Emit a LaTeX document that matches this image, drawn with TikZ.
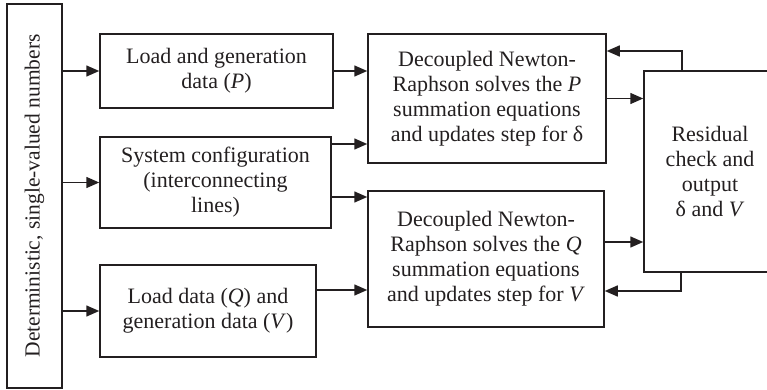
\documentclass[tikz,border=0pt]{standalone}
\usepackage{fontspec}
\setmainfont{Liberation Serif}
\usetikzlibrary{arrows.meta}
\definecolor{ink}{HTML}{231F20}
\tikzset{
  blk/.style={draw=ink, line width=1.5pt, text=ink, align=center, inner sep=0pt,
    font=\fontsize{22}{25}\selectfont},
  arr/.style={draw=ink, line width=1.5pt, -{Triangle[length=13pt,width=11pt]}},
}
\begin{document}
\begin{tikzpicture}[x=1pt,y=-1pt]
\clip (0,0) rectangle (767,390);
\useasboundingbox (0,0) rectangle (767,390);
\node[blk, minimum width=55pt, minimum height=384pt] (L) at (34.5,196) {};
\node[text=ink, font=\fontsize{21.5}{25}\selectfont, rotate=90] (Lt) at (L.center) {Deterministic, single-valued numbers};
\node[blk, minimum width=233pt, minimum height=74pt] (A) at (216.5,71) {Load and generation\\data (\textit{P})};
\node[blk, minimum width=231pt, minimum height=91pt] (B) at (215.5,182.5) {System configuration\\(interconnecting\\lines)};
\node[blk, minimum width=216pt, minimum height=92pt] (C) at (208,311) {Load data (\textit{Q}) and\\generation data (\textit{V})};
\node[blk, minimum width=238pt, minimum height=129pt] (D) at (487,98.5) {Decoupled Newton-\\Raphson solves the \textit{P}\\summation equations\\and updates step for δ};
\node[blk, minimum width=236pt, minimum height=136pt] (E) at (486,259) {Decoupled Newton-\\Raphson solves the \textit{Q}\\summation equations\\and updates step for \textit{V}};
\node[blk, minimum width=132pt, minimum height=201pt] (F) at (710,171.5) {Residual\\check and\\output\\δ and \textit{V}};
\draw[arr] (L.east |- A.west) -- (A.west);
\draw[arr] (L.east |- B.west) -- (B.west);
\draw[arr] (L.east |- C.west) -- (C.west);
\draw[arr] (A.east) -- (A.east -| D.west);
\coordinate (b1) at (331,144);
\coordinate (b2) at (331,197);
\draw[arr] (b1 -| B.east) -- (b1 -| D.west);
\draw[arr] (b2 -| B.east) -- (b2 -| E.west);
\coordinate (c1) at (316,290);
\draw[arr] (c1 -| C.east) -- (c1 -| E.west);
\draw[arr] (D.east) -- (D.east -| F.west);
\coordinate (e1) at (604,242);
\draw[arr] (e1 -| E.east) -- (e1 -| F.west);
\coordinate (f1) at (682,51);
\draw[arr] (f1 |- F.north) -- (f1) -- (f1 -| D.east);
\coordinate (f2) at (681,291);
\draw[arr] (f2 |- F.south) -- (f2) -- (f2 -| E.east);
\end{tikzpicture}
\end{document}
